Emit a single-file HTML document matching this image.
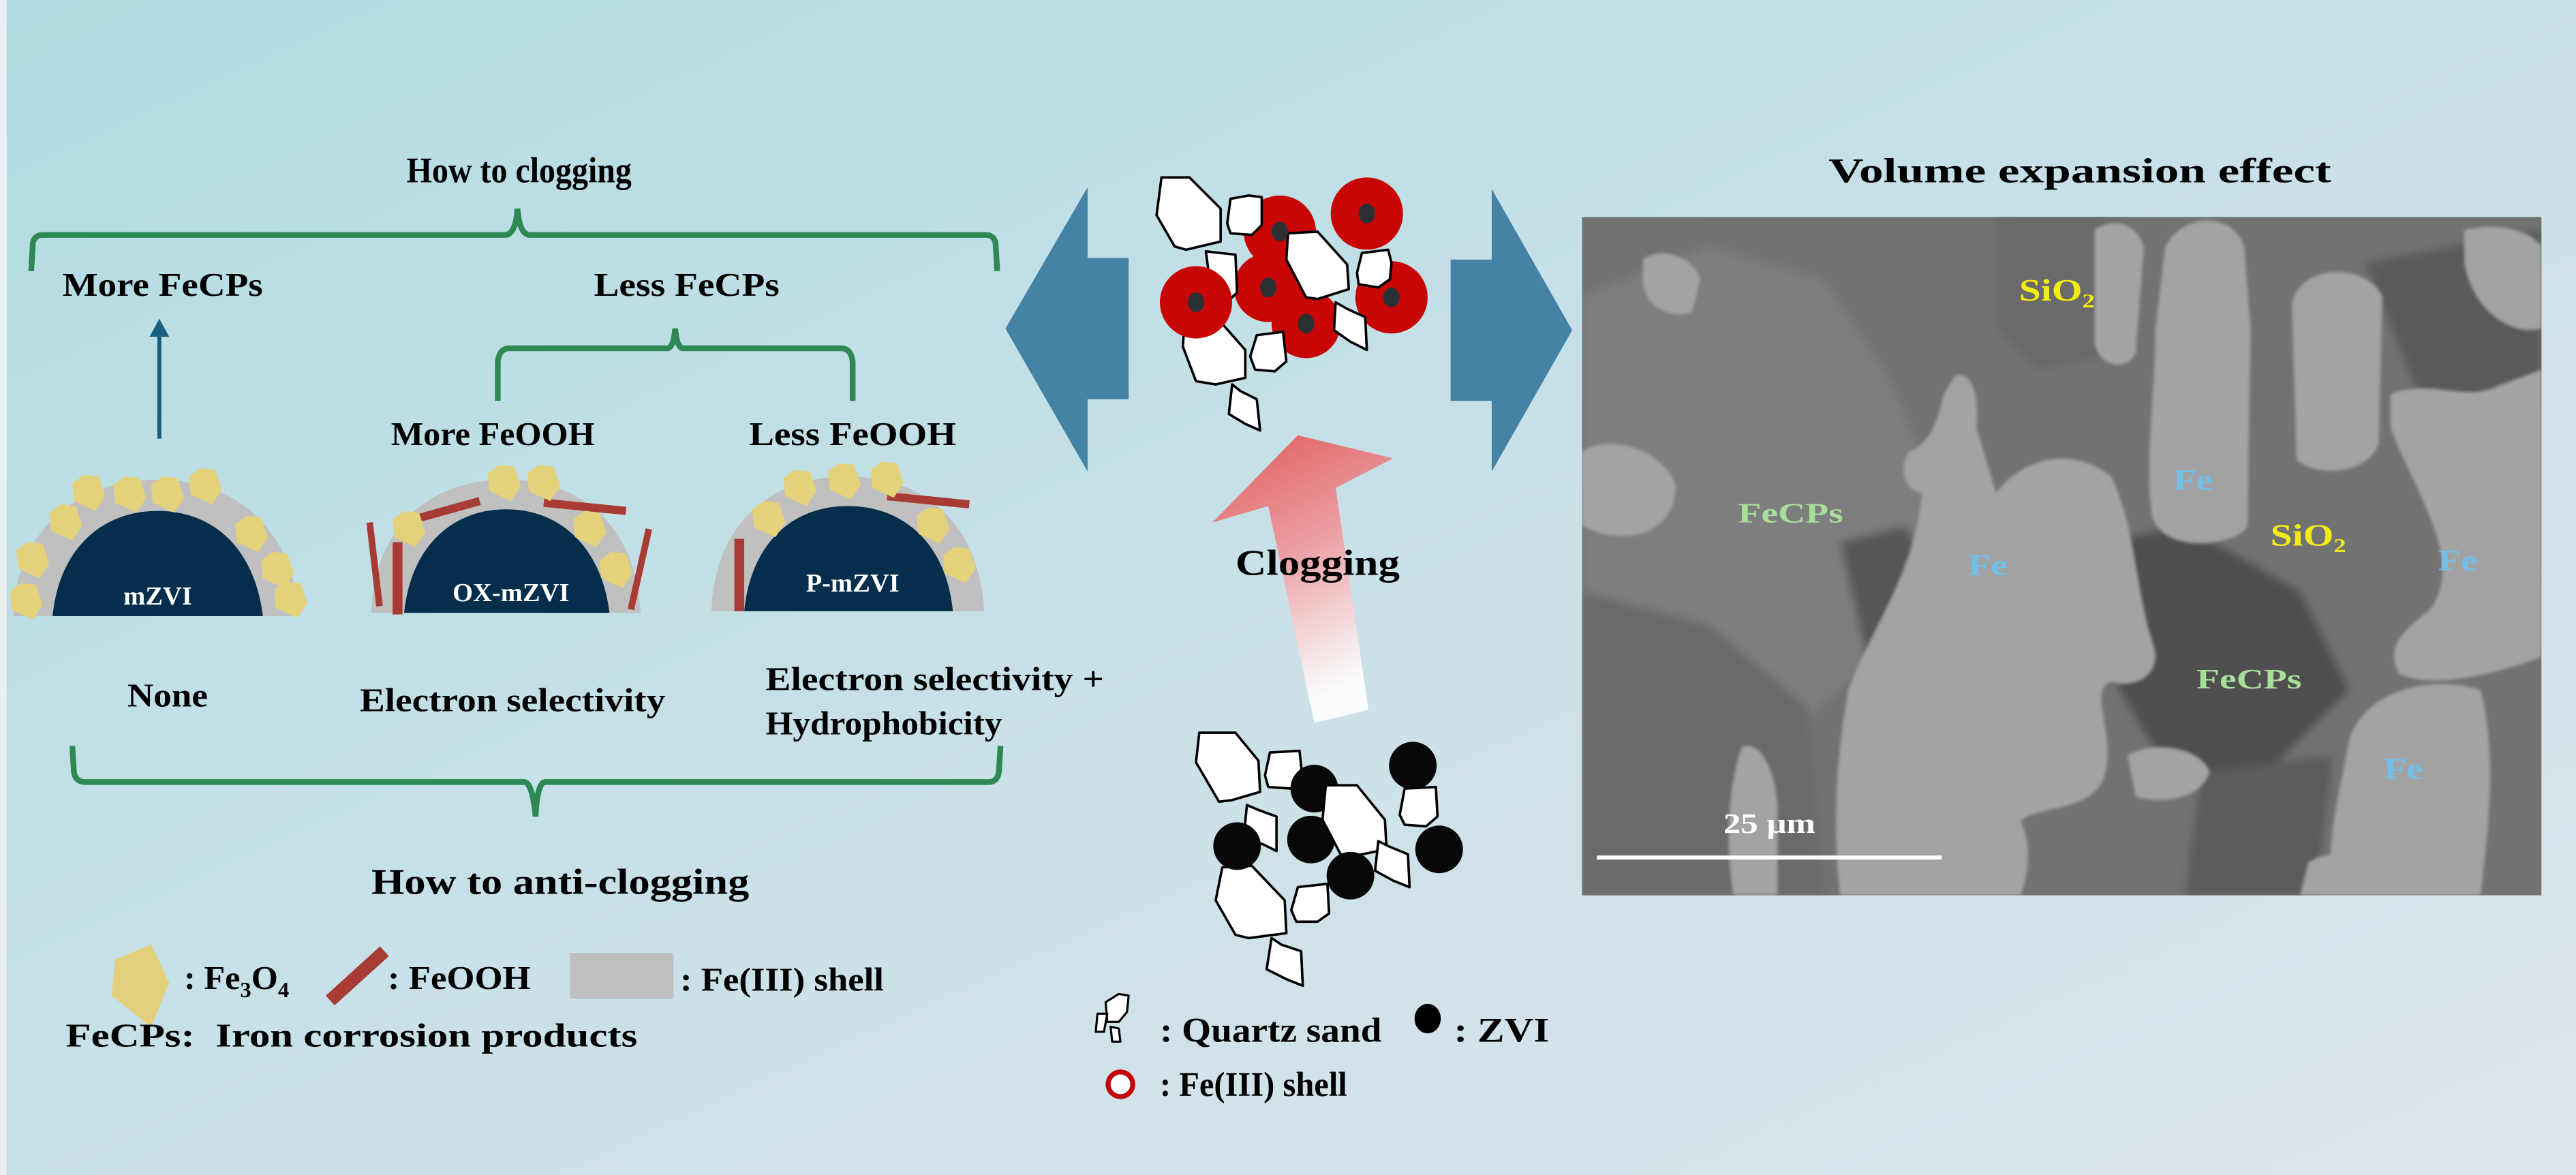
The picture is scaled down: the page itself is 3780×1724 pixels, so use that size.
<!DOCTYPE html>
<html><head><meta charset="utf-8"><style>
html,body{margin:0;padding:0;width:3780px;height:1724px;overflow:hidden}
svg{display:block}
text{font-family:"Liberation Serif",serif;font-weight:bold}
</style></head><body>
<svg width="3780" height="1724" viewBox="0 0 1568 715.2" preserveAspectRatio="none" xmlns="http://www.w3.org/2000/svg">
<defs>
<linearGradient id="bg" x1="0" y1="0" x2="1" y2="1">
<stop offset="0" stop-color="#b2dce3"/><stop offset="1" stop-color="#dfe5ec"/></linearGradient>
<linearGradient id="ra" x1="0" y1="0" x2="0.3" y2="1">
<stop offset="0" stop-color="#e05a5a"/><stop offset="0.5" stop-color="#eca0a4"/><stop offset="1" stop-color="#ffffff" stop-opacity="0.9"/></linearGradient>
<filter id="bl" x="-0.1" y="-0.1" width="1.2" height="1.2"><feGaussianBlur stdDeviation="2.5"/></filter>
<filter id="bl2"><feGaussianBlur stdDeviation="1"/></filter>
<clipPath id="semc"><rect x="963" y="132" width="584" height="413"/></clipPath>
<polygon id="pg" points="-3,-11 6,-10 10,2 4,11 -9,5 -10,-6" fill="#e4d27b"/>
</defs>
<rect width="1568" height="715.2" fill="url(#bg)"/>
<rect x="0" y="0" width="4" height="715.2" fill="#eaf0f2"/>

<!-- Left panel -->
<text x="316" y="111" font-size="22" text-anchor="middle" textLength="137" lengthAdjust="spacingAndGlyphs">How to clogging</text>
<path d="M19,165 L20,148 Q21,143 26,143 L308,143 Q314,142 315,127 Q316,142 322,143 L600,143 Q605,143 606,148 L607,165" fill="none" stroke="#2d8854" stroke-width="3.5"/>
<text x="99" y="180" font-size="20" text-anchor="middle" textLength="122" lengthAdjust="spacingAndGlyphs">More FeCPs</text>
<text x="418" y="180" font-size="20" text-anchor="middle" textLength="113" lengthAdjust="spacingAndGlyphs">Less FeCPs</text>
<line x1="97" y1="267" x2="97" y2="203" stroke="#1b5f80" stroke-width="2.5"/>
<polygon points="91,205 97,194 103,205" fill="#1b5f80"/>
<path d="M303,244 L303,220 Q304,212 310,212 L406,212 Q410,212 411,200 Q412,212 416,212 L512,212 Q518,212 519,220 L519,244" fill="none" stroke="#2d8854" stroke-width="3.5"/>
<text x="300" y="271" font-size="20" text-anchor="middle" textLength="124" lengthAdjust="spacingAndGlyphs">More FeOOH</text>
<text x="519" y="271" font-size="20" text-anchor="middle" textLength="126" lengthAdjust="spacingAndGlyphs">Less FeOOH</text>

<!-- mZVI -->
<path d="M8,375 C10,320 50,292 96,292 C142,292 178,320 182,375 Z" fill="#c0c0c0"/>
<path d="M32,375 C36,334 62,311 96,311 C130,311 155,334 160,375 Z" fill="#042e4b"/>
<use href="#pg" x="54" y="300"/><use href="#pg" x="79" y="301"/><use href="#pg" x="102" y="301"/><use href="#pg" x="125" y="296"/>
<use href="#pg" x="40" y="318"/><use href="#pg" x="153" y="325"/><use href="#pg" x="20" y="341"/><use href="#pg" x="169" y="347"/>
<use href="#pg" x="16" y="366"/><use href="#pg" x="177" y="365"/>
<text x="96" y="368" font-size="16" fill="#fff" text-anchor="middle">mZVI</text>

<!-- OX-mZVI -->
<path d="M226,373 C228,320 262,292 308,292 C354,292 387,320 390,373 Z" fill="#c0c0c0"/>
<path d="M246,373 C250,333 275,310 308,310 C341,310 366,333 371,373 Z" fill="#042e4b"/>
<line x1="256" y1="315" x2="292" y2="305" stroke="#a83c34" stroke-width="5"/>
<line x1="331" y1="306" x2="381" y2="311" stroke="#a83c34" stroke-width="5"/>
<line x1="225" y1="318" x2="231" y2="369" stroke="#a83c34" stroke-width="4"/>
<line x1="242" y1="330" x2="242" y2="374" stroke="#a83c34" stroke-width="6"/>
<line x1="395" y1="322" x2="384" y2="371" stroke="#a83c34" stroke-width="4"/>
<use href="#pg" x="307" y="294"/><use href="#pg" x="331" y="294"/><use href="#pg" x="249" y="322"/><use href="#pg" x="359" y="322"/><use href="#pg" x="375" y="347"/>
<text x="311" y="366" font-size="16" fill="#fff" text-anchor="middle">OX-mZVI</text>

<!-- P-mZVI -->
<path d="M433,372 C435,318 470,290 516,290 C562,290 596,318 599,372 Z" fill="#c0c0c0"/>
<path d="M453,372 C457,331 482,308 516,308 C550,308 576,331 580,372 Z" fill="#042e4b"/>
<line x1="540" y1="302" x2="590" y2="307" stroke="#a83c34" stroke-width="5"/>
<line x1="450" y1="328" x2="450" y2="372" stroke="#a83c34" stroke-width="6"/>
<use href="#pg" x="487" y="297"/><use href="#pg" x="514" y="293"/><use href="#pg" x="540" y="292"/><use href="#pg" x="468" y="316"/><use href="#pg" x="568" y="320"/><use href="#pg" x="584" y="344"/>
<text x="519" y="360" font-size="16" fill="#fff" text-anchor="middle">P-mZVI</text>

<text x="102" y="430" font-size="20" text-anchor="middle" textLength="49" lengthAdjust="spacingAndGlyphs">None</text>
<text x="312" y="433" font-size="20" text-anchor="middle" textLength="186" lengthAdjust="spacingAndGlyphs">Electron selectivity</text>
<text x="466" y="420" font-size="20" textLength="206" lengthAdjust="spacingAndGlyphs">Electron selectivity +</text>
<text x="466" y="447" font-size="20" textLength="144" lengthAdjust="spacingAndGlyphs">Hydrophobicity</text>
<path d="M44,454 L45,470 Q46,476 52,476 L319,476 Q324,476 326,497 Q327,476 332,476 L602,476 Q607,476 608,470 L609,454" fill="none" stroke="#2d8854" stroke-width="3.5"/>
<text x="341" y="544" font-size="22" text-anchor="middle" textLength="230" lengthAdjust="spacingAndGlyphs">How to anti-clogging</text>

<!-- legend left -->
<polygon points="70,584 92,575 103,598 92,625 68,606" fill="#e2d07a"/>
<text x="112" y="602" font-size="20" textLength="64" lengthAdjust="spacingAndGlyphs">: Fe<tspan font-size="13" dy="5">3</tspan><tspan dy="-5">O</tspan><tspan font-size="13" dy="5">4</tspan></text>
<line x1="201" y1="609" x2="234" y2="579" stroke="#a83c34" stroke-width="8"/>
<text x="236" y="602" font-size="20" textLength="87" lengthAdjust="spacingAndGlyphs">: FeOOH</text>
<rect x="347" y="580" width="63" height="28" fill="#bfbfbf"/>
<text x="414" y="603" font-size="20" textLength="124" lengthAdjust="spacingAndGlyphs">: Fe(III) shell</text>
<text x="40" y="637" font-size="20" textLength="348" lengthAdjust="spacingAndGlyphs">FeCPs:&#160; Iron corrosion products</text>

<!-- center arrows -->
<polygon points="612,200 662,114 662,157 687,157 687,243 662,243 662,287" fill="#4482a6"/>
<polygon points="957,201 908,115 908,158 883,158 883,244 908,244 908,287" fill="#4482a6"/>

<!-- top cluster -->
<g stroke="#000" stroke-width="1.5" stroke-linejoin="round">
<g stroke="none" fill="#c90606">
<circle cx="832" cy="130" r="22"/><circle cx="779" cy="141" r="22"/><circle cx="772" cy="175" r="21"/><circle cx="795" cy="197" r="21"/><circle cx="847" cy="181" r="22"/>
</g>
<polygon fill="#fff" points="734,153 752,155 753,178 749,182 736,168"/>
<polygon fill="#fff" points="721,196 743,196 758,213 758,230 740,234 728,232 720,211"/>
<circle cx="728" cy="184" r="22" fill="#c90606" stroke="none"/>
<polygon fill="#fff" points="707,108 724,108 743,127 743,147 722,152 715,150 704,131"/>
<polygon fill="#fff" points="749,121 760,119 768,120 768,137 762,143 749,142 747,136"/>
<polygon fill="#fff" points="784,142 802,141 820,161 821,176 802,182 795,181 783,158"/>
<polygon fill="#fff" points="829,154 845,152 847,160 846,170 839,175 827,173 826,166"/>
<polygon fill="#fff" points="813,184 820,188 831,193 832,213 822,208 812,201"/>
<polygon fill="#fff" points="765,204 781,202 783,220 776,226 764,225 761,217"/>
<polygon fill="#fff" points="750,234 755,238 765,243 767,262 758,258 748,252"/>
<g stroke="none" fill="#2b3034">
<ellipse cx="832" cy="130" rx="5" ry="6"/><ellipse cx="779" cy="141" rx="5" ry="6"/><ellipse cx="772" cy="175" rx="5" ry="6"/><ellipse cx="728" cy="184" rx="5" ry="6"/><ellipse cx="795" cy="197" rx="5" ry="6"/><ellipse cx="847" cy="181" rx="5" ry="6"/>
</g>
</g>

<!-- clogging arrow -->
<polygon points="790,265 848,279 813,297 833,432 800,440 772,308 738,318" fill="url(#ra)"/>
<text x="802" y="350" font-size="22" text-anchor="middle" textLength="100" lengthAdjust="spacingAndGlyphs">Clogging</text>

<!-- bottom cluster -->
<g stroke="#000" stroke-width="1.5" stroke-linejoin="round">
<polygon fill="#fff" points="730,446 752,446 766,463 767,482 750,487 742,488 728,464"/>
<polygon fill="#fff" points="773,458 791,457 793,475 786,480 772,479 770,472"/>
<circle cx="800" cy="480" r="14.5" fill="#080808" stroke="none"/>
<circle cx="860" cy="466" r="14.5" fill="#080808" stroke="none"/>
<polygon fill="#fff" points="759,490 766,493 777,497 777,518 769,514 757,510"/>
<polygon fill="#fff" points="744,528 762,527 782,548 783,568 760,571 752,569 740,548"/>
<circle cx="753" cy="515" r="14.5" fill="#080808" stroke="none"/>
<circle cx="798" cy="511" r="14.5" fill="#080808" stroke="none"/>
<polygon fill="#fff" points="807,478 826,478 843,499 844,517 824,521 816,520 805,499"/>
<polygon fill="#fff" points="855,480 874,479 875,497 868,503 855,502 852,496"/>
<polygon fill="#fff" points="839,512 845,515 857,520 858,540 848,536 837,530"/>
<circle cx="822" cy="533" r="14.5" fill="#080808" stroke="none"/>
<circle cx="876" cy="517" r="14.5" fill="#080808" stroke="none"/>
<polygon fill="#fff" points="790,540 808,538 809,556 802,561 789,561 786,554"/>
<polygon fill="#fff" points="774,571 780,575 792,579 793,600 783,596 771,590"/>
</g>

<!-- legend center -->
<g stroke="#000" stroke-width="1.3" fill="#fff" stroke-linejoin="round">
<polygon points="673,610 681,605 687,606 686,616 681,622 674,622"/>
<polygon points="668,617 674,617 672,628 667,628"/>
<polygon points="676,625 681,626 682,634 677,634"/>
</g>
<text x="706" y="634" font-size="21" textLength="135" lengthAdjust="spacingAndGlyphs">: Quartz sand</text>
<ellipse cx="869" cy="620" rx="8" ry="9" fill="#000"/>
<text x="885" y="634" font-size="21" textLength="58" lengthAdjust="spacingAndGlyphs">: ZVI</text>
<circle cx="682" cy="660" r="7.5" fill="#fff" stroke="#c20606" stroke-width="3"/>
<text x="706" y="667" font-size="21" textLength="114" lengthAdjust="spacingAndGlyphs">: Fe(III) shell</text>

<!-- right SEM -->
<text x="1266" y="111" font-size="21" text-anchor="middle" textLength="306" lengthAdjust="spacingAndGlyphs">Volume expansion effect</text>
<g clip-path="url(#semc)">
<rect x="963" y="132" width="584" height="413" fill="#727272"/>
<g filter="url(#bl)">
<path d="M963,180 L1040,150 L1110,170 L1150,230 L1180,300 L1160,380 L1120,420 L1060,470 L1000,480 L963,470 Z" fill="#7e7e7e"/>
<path d="M963,360 L1040,380 L1100,430 L1110,545 L963,545 Z" fill="#6a6a6a"/>
<path d="M1120,330 L1160,320 L1190,380 L1200,440 L1150,460 Z" fill="#565656"/>
<path d="M1280,330 L1330,320 L1400,360 L1430,420 L1380,470 L1320,470 L1290,420 Z" fill="#4f4f4f"/>
<path d="M1440,160 L1547,140 L1547,250 L1480,260 Z" fill="#5a5a5a"/>
<path d="M1215,132 L1290,132 L1290,215 L1240,225 L1215,200 Z" fill="#6a6a6a"/>
<path d="M1340,470 L1420,460 L1410,545 L1330,545 Z" fill="#5c5c5c"/>
</g>
<g fill="#a3a3a3" filter="url(#bl2)">
<path d="M1190,229 C1200,225 1205,240 1203,260 L1215,300 C1230,280 1260,270 1285,290 C1300,320 1300,360 1310,390 C1318,410 1300,420 1285,415 C1270,420 1290,450 1280,475 C1270,495 1240,490 1230,500 C1240,520 1230,545 1230,545 L1120,545 C1115,500 1118,460 1125,420 C1140,380 1165,350 1170,300 C1160,300 1155,285 1162,275 C1175,270 1180,255 1183,240 Z"/>
<path d="M1318,150 C1330,128 1360,130 1366,150 L1370,200 L1368,320 C1365,330 1320,340 1310,315 C1305,280 1312,240 1312,200 Z"/>
<path d="M1395,185 C1400,160 1440,160 1450,180 L1448,270 C1440,290 1410,290 1398,280 Z"/>
<path d="M1455,240 C1480,230 1500,245 1520,235 L1547,225 L1547,400 C1520,410 1480,420 1460,410 C1450,390 1470,380 1480,370 C1500,340 1470,300 1455,260 Z"/>
<path d="M1430,450 C1440,420 1480,410 1510,420 C1520,460 1515,500 1510,545 L1420,545 C1415,510 1425,480 1430,450 Z"/>
<path d="M1275,140 C1285,132 1300,135 1305,150 L1300,215 C1295,225 1280,225 1275,210 Z"/>
<path d="M963,275 C975,265 1010,270 1020,295 C1020,320 1000,330 975,325 L963,320 Z"/>
<path d="M1060,455 C1070,450 1080,465 1082,490 L1082,545 L1055,545 C1050,510 1052,480 1060,455 Z"/>
<path d="M1295,460 C1310,450 1340,455 1345,470 C1340,485 1320,490 1300,485 Z"/>
<path d="M1405,525 C1420,515 1440,520 1445,545 L1400,545 Z"/>
<path d="M1500,140 C1520,135 1540,140 1547,150 L1547,200 C1530,205 1505,190 1500,160 Z"/>
<path d="M1000,158 C1010,150 1030,155 1035,170 L1030,190 C1015,195 1000,185 1000,170 Z"/>
</g>
</g>
<line x1="972" y1="522" x2="1182" y2="522" stroke="#fff" stroke-width="2.5"/>
<text x="1077" y="507" font-size="17" fill="#fff" text-anchor="middle" textLength="56" lengthAdjust="spacingAndGlyphs">25 μm</text>
<text x="1252" y="183" font-size="19" fill="#f2ec12" text-anchor="middle" textLength="46" lengthAdjust="spacingAndGlyphs">SiO<tspan font-size="12" dy="4">2</tspan></text>
<text x="1405" y="332" font-size="19" fill="#f2ec12" text-anchor="middle" textLength="46" lengthAdjust="spacingAndGlyphs">SiO<tspan font-size="12" dy="4">2</tspan></text>
<text x="1090" y="318" font-size="17" fill="#a7df9a" text-anchor="middle" textLength="64" lengthAdjust="spacingAndGlyphs">FeCPs</text>
<text x="1369" y="419" font-size="17" fill="#a7df9a" text-anchor="middle" textLength="64" lengthAdjust="spacingAndGlyphs">FeCPs</text>
<text x="1210" y="350" font-size="18" fill="#72c0ea" text-anchor="middle" textLength="24" lengthAdjust="spacingAndGlyphs">Fe</text>
<text x="1335" y="298" font-size="18" fill="#72c0ea" text-anchor="middle" textLength="24" lengthAdjust="spacingAndGlyphs">Fe</text>
<text x="1496" y="347" font-size="18" fill="#72c0ea" text-anchor="middle" textLength="24" lengthAdjust="spacingAndGlyphs">Fe</text>
<text x="1463" y="474" font-size="18" fill="#72c0ea" text-anchor="middle" textLength="24" lengthAdjust="spacingAndGlyphs">Fe</text>
</svg>
</body></html>
